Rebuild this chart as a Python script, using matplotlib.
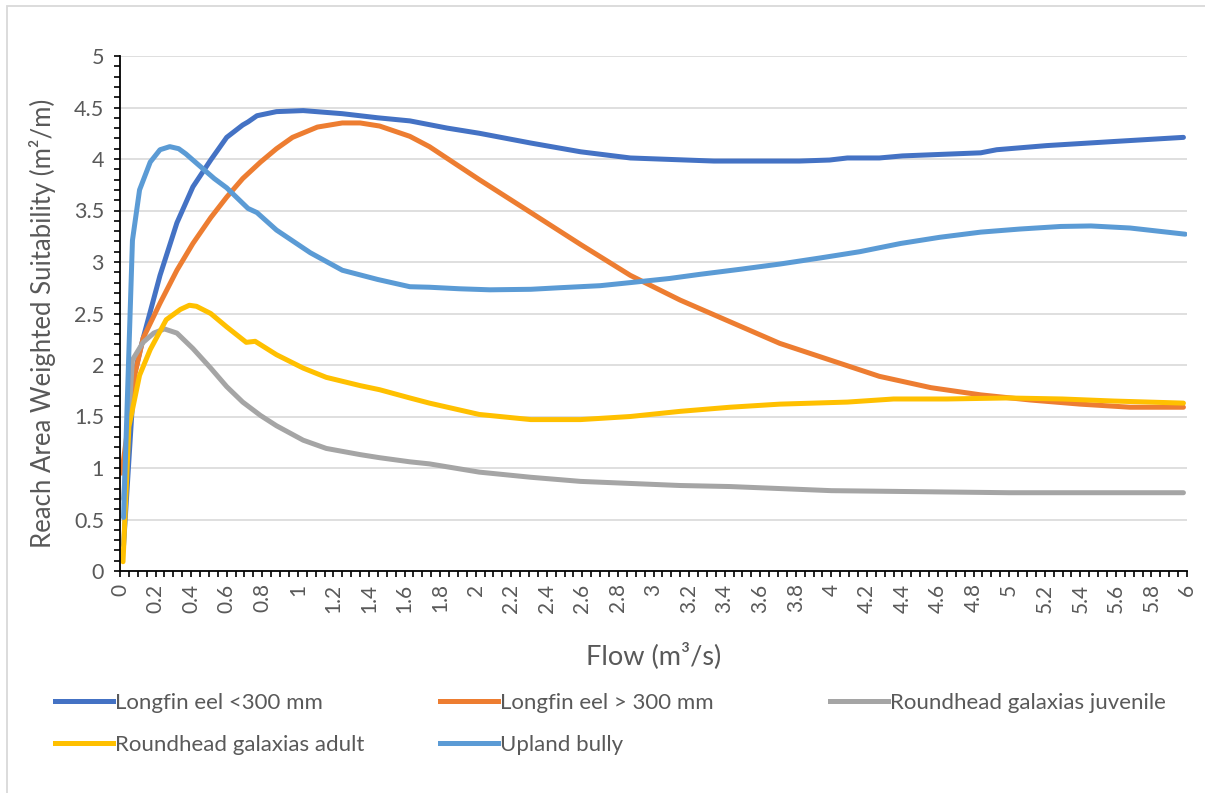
import matplotlib
matplotlib.use("Agg")
import matplotlib.pyplot as plt
from matplotlib.patches import Rectangle
from matplotlib.ticker import MultipleLocator, FuncFormatter
from matplotlib.lines import Line2D

plt.rcParams['font.family'] = ['Lato', 'DejaVu Sans']

GREY_TXT = "#595959"

# series (flow m3/s, suitability m2/m)
eel_small_x = [0.02, 0.08, 0.13, 0.225, 0.32, 0.41, 0.51, 0.60, 0.69, 0.72, 0.77, 0.88,
               1.03, 1.25, 1.45, 1.63, 1.84, 2.02, 2.31, 2.59, 2.87, 3.34, 3.82, 3.99,
               4.09, 4.27, 4.40, 4.84, 4.93, 5.21, 5.59, 5.98]
eel_small_y = [0.25, 1.90, 2.26, 2.87, 3.38, 3.73, 3.99, 4.21, 4.33, 4.36, 4.42, 4.46,
               4.47, 4.44, 4.40, 4.37, 4.30, 4.25, 4.155, 4.07, 4.01, 3.98, 3.98, 3.99,
               4.01, 4.01, 4.03, 4.06, 4.09, 4.13, 4.17, 4.21]

eel_large_x = [0.01, 0.085, 0.13, 0.225, 0.32, 0.41, 0.51, 0.60, 0.69, 0.79, 0.88, 0.97,
               1.11, 1.25, 1.35, 1.46, 1.63, 1.74, 2.02, 2.31, 2.59, 2.87, 3.15, 3.43,
               3.71, 3.99, 4.27, 4.56, 4.84, 5.12, 5.40, 5.68, 5.98]
eel_large_y = [0.95, 1.92, 2.26, 2.60, 2.92, 3.18, 3.43, 3.63, 3.81, 3.97, 4.10, 4.21,
               4.31, 4.35, 4.35, 4.32, 4.22, 4.12, 3.80, 3.48, 3.17, 2.87, 2.63, 2.42,
               2.21, 2.05, 1.89, 1.78, 1.71, 1.66, 1.62, 1.59, 1.59]

rg_juv_x = [0.02, 0.07, 0.13, 0.19, 0.25, 0.32, 0.41, 0.51, 0.60, 0.69, 0.79, 0.88,
            1.03, 1.16, 1.35, 1.46, 1.63, 1.74, 2.02, 2.31, 2.59, 2.87, 3.15, 3.43,
            4.0, 4.5, 5.0, 5.5, 5.98]
rg_juv_y = [0.70, 2.05, 2.22, 2.31, 2.35, 2.31, 2.16, 1.97, 1.79, 1.64, 1.51, 1.41,
            1.27, 1.19, 1.13, 1.10, 1.06, 1.04, 0.96, 0.91, 0.87, 0.85, 0.83, 0.82,
            0.78, 0.77, 0.76, 0.76, 0.76]

rg_adult_x = [0.017, 0.05, 0.11, 0.17, 0.26, 0.34, 0.39, 0.43, 0.51, 0.60, 0.71, 0.76,
              0.88, 1.03, 1.16, 1.35, 1.46, 1.63, 1.74, 2.02, 2.31, 2.59, 2.87, 3.15,
              3.43, 3.71, 4.09, 4.35, 4.65, 4.99, 5.30, 5.59, 5.98]
rg_adult_y = [0.09, 1.40, 1.90, 2.15, 2.44, 2.54, 2.58, 2.57, 2.50, 2.37, 2.22, 2.23,
              2.10, 1.97, 1.88, 1.80, 1.76, 1.68, 1.63, 1.52, 1.47, 1.47, 1.50, 1.55,
              1.59, 1.62, 1.64, 1.67, 1.67, 1.68, 1.67, 1.65, 1.63]

bully_x = [0.02, 0.07, 0.11, 0.17, 0.225, 0.28, 0.33, 0.37, 0.45, 0.53, 0.60, 0.72,
           0.77, 0.88, 1.07, 1.25, 1.45, 1.63, 1.74, 1.91, 2.08, 2.31, 2.47, 2.70,
           2.87, 3.09, 3.26, 3.49, 3.71, 3.94, 4.16, 4.39, 4.61, 4.84, 5.06, 5.29,
           5.46, 5.68, 5.99]
bully_y = [0.52, 3.21, 3.70, 3.97, 4.09, 4.12, 4.10, 4.05, 3.93, 3.81, 3.72, 3.52,
           3.48, 3.31, 3.09, 2.92, 2.83, 2.76, 2.755, 2.74, 2.73, 2.735, 2.75, 2.77,
           2.80, 2.84, 2.88, 2.93, 2.98, 3.04, 3.10, 3.18, 3.24, 3.29, 3.32, 3.345,
           3.35, 3.33, 3.27]

series = [
    ("Longfin eel <300 mm", eel_small_x, eel_small_y, "#4472C4"),
    ("Longfin eel > 300 mm", eel_large_x, eel_large_y, "#ED7D31"),
    ("Roundhead galaxias juvenile", rg_juv_x, rg_juv_y, "#A5A5A5"),
    ("Roundhead galaxias adult", rg_adult_x, rg_adult_y, "#FFC000"),
    ("Upland bully", bully_x, bully_y, "#5B9BD5"),
]

fig = plt.figure(figsize=(12.05, 7.93), dpi=100)
ax = fig.add_axes([120 / 1205, 1 - 571 / 793, 1067 / 1205, 515 / 793])

for name, xs, ys, col in series:
    ax.plot(xs, ys, color=col, lw=3.6, solid_capstyle="round", solid_joinstyle="round")

ax.set_xlim(0, 6.0)
ax.set_ylim(0, 5)

fmt = FuncFormatter(lambda v, p: "%g" % round(v, 2))
ax.xaxis.set_major_locator(MultipleLocator(0.2))
ax.xaxis.set_minor_locator(MultipleLocator(0.05))
ax.xaxis.set_major_formatter(fmt)
ax.yaxis.set_major_locator(MultipleLocator(0.5))
ax.yaxis.set_minor_locator(MultipleLocator(0.1))
ax.yaxis.set_major_formatter(fmt)

ax.grid(axis="y", which="major", color="#D9D9D9", lw=1.2)
ax.set_axisbelow(True)
for s in ("top", "right"):
    ax.spines[s].set_visible(False)
for s in ("left", "bottom"):
    ax.spines[s].set_color("black")
    ax.spines[s].set_linewidth(1.3)

ax.tick_params(axis="x", which="both", direction="out", length=4, width=1.2,
               color="black", labelsize=15, labelcolor=GREY_TXT, labelrotation=90, pad=5)
ax.tick_params(axis="y", which="both", direction="out", length=4.5, width=1.2,
               color="black", labelsize=15.5, labelcolor=GREY_TXT, pad=7)

ax.set_ylabel("Reach Area Weighted Suitability (m²/m)", fontsize=18.5, color=GREY_TXT)
ax.yaxis.set_label_coords(-0.060, 0.48)
ax.set_xlabel("Flow (m³/s)", fontsize=19.5, color=GREY_TXT, labelpad=21)

# legend: Excel lays entries row-wise in three columns
handles = [Line2D([], [], color=c, lw=3.6) for _, _, _, c in series]
labels = [n for n, _, _, _ in series]
columns = [([0, 3], 55), ([1, 4], 440), ([2], 830)]
for idx, xpx in columns:
    fig.legend([handles[i] for i in idx], [labels[i] for i in idx],
               loc="upper left", bbox_to_anchor=(xpx / 1205, 1 - 693 / 793),
               frameon=False, fontsize=16, handlelength=2.6, handletextpad=0.1,
               labelspacing=1.0, borderpad=0, borderaxespad=0, labelcolor=GREY_TXT)

# light chart border
fig.patches.append(Rectangle((7.5 / 1205, -0.05), 1.2, 1.05 - 5.5 / 793, transform=fig.transFigure,
                             fill=False, edgecolor="#D9D9D9", lw=1.3))

fig.savefig("out.png", dpi=100)
